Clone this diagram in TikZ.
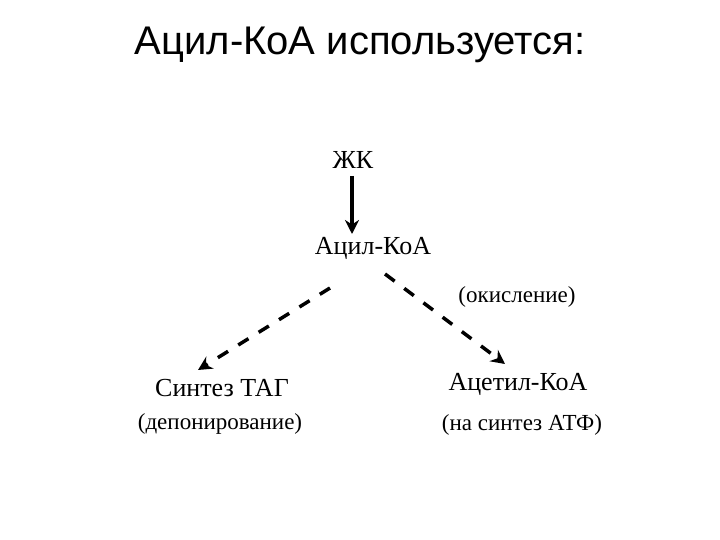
\documentclass[tikz,border=0pt]{standalone}
\usepackage{fontspec}
\setmainfont{Liberation Serif}
\newfontfamily\titlefont{Liberation Sans}
\usetikzlibrary{arrows.meta}
\begin{document}
\begin{tikzpicture}[x=1pt,y=-1pt,
  lbl/.style={font=\fontsize{26}{30}\selectfont},
  sub/.style={font=\fontsize{23}{26}\selectfont},
  dash arrow/.style={line width=3.5pt,dash pattern=on 12pt off 12pt,-{Stealth[length=14pt,width=14pt]}},
  solid arrow/.style={line width=3.5pt,-{Stealth[length=14pt,width=14pt]}}]
\useasboundingbox[fill=white] (0,0) rectangle (720,540);
\node[font=\titlefont\fontsize{40}{44}\selectfont] (title) at (360,45) {Ацил-КоА используется:};
\node[lbl] (zk) at (353,160) {ЖК};
\node[lbl] (acyl) at (373,248) {Ацил-КоА};
\node[sub] (ox) at (517,297) {(окисление)};
\node[lbl] (tag) at (222,388) {Синтез ТАГ};
\node[sub] (dep) at (220,424) {(депонирование)};
\node[lbl] (acet) at (518,384) {Ацетил-КоА};
\node[sub] (atp) at (522,425) {(на синтез АТФ)};
\coordinate (z1) at (352,176);
\coordinate (z2) at (352,234);
\coordinate (a1) at (330,288);
\coordinate (e1) at (198,370);
\coordinate (a2) at (385,274);
\coordinate (e2) at (505,364);
\draw[solid arrow] (z1) -- (z2);
\draw[dash arrow] (a1) -- (e1);
\draw[dash arrow] (a2) -- (e2);
\end{tikzpicture}
\end{document}
